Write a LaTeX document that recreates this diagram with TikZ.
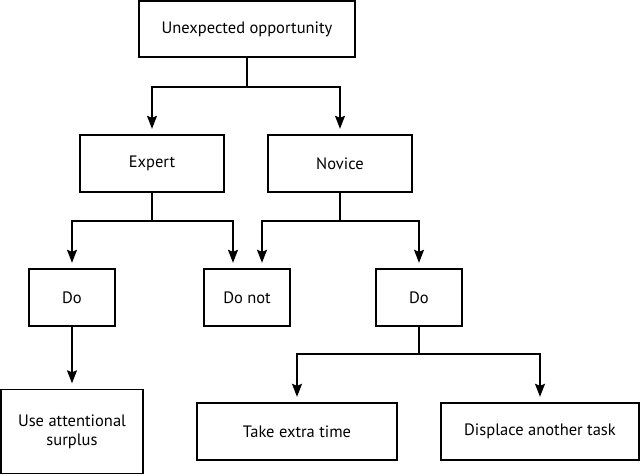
\documentclass[tikz,border=0pt]{standalone}
\usepackage{fontspec}
\setmainfont{PT Sans}
\usetikzlibrary{arrows.meta}
\begin{document}
\begin{tikzpicture}[x=1pt,y=-1pt,
  box/.style={draw=black,line width=1.4pt,inner sep=0pt,align=center,
    font=\fontsize{16.5}{19}\selectfont,text=black},
  arr/.style={line width=1.3pt,-{Stealth[length=13pt,width=10pt,inset=2pt]},shorten >=5.5pt}]
\useasboundingbox (0,0) rectangle (640,475);
\node[box,minimum width=216pt,minimum height=56pt] (top) at (247,29) {Unexpected opportunity};
\node[box,minimum width=144pt,minimum height=57pt] (expert) at (152,163.5) {Expert};
\node[box,minimum width=144pt,minimum height=57pt] (novice) at (340,163.5) {Novice};
\node[box,minimum width=86pt,minimum height=57pt] (do1) at (72,297.5) {Do};
\node[box,minimum width=86pt,minimum height=57pt] (donot) at (247,297.5) {Do not};
\node[box,minimum width=86pt,minimum height=57pt] (do2) at (419,297.5) {Do};
\node[box,minimum width=142pt,minimum height=84pt] (use) at (72,431.5) {Use attentional\\surplus};
\node[box,minimum width=200pt,minimum height=57pt] (take) at (297,431.5) {Take extra time};
\node[box,minimum width=198pt,minimum height=57pt] (disp) at (540,431.5) {Displace another task};
\coordinate (j1) at (247,87);
\coordinate (j2) at (152,221);
\coordinate (j3) at (340,221);
\coordinate (j4) at (419,354);
\draw[line width=1.3pt] (top.south) -- (j1);
\draw[arr] (j1) -| (expert.north);
\draw[arr] (j1) -| (novice.north);
\draw[line width=1.3pt] (expert.south) -- (j2);
\draw[arr] (j2) -| (do1.north);
\draw[arr] (j2) -| ([xshift=-14pt]donot.north);
\draw[line width=1.3pt] (novice.south) -- (j3);
\draw[arr] (j3) -| ([xshift=15pt]donot.north);
\draw[arr] (j3) -| (do2.north);
\draw[arr] (do1.south) -- (use.north);
\draw[line width=1.3pt] (do2.south) -- (j4);
\draw[arr] (j4) -| (take.north);
\draw[arr] (j4) -| (disp.north);
\end{tikzpicture}
\end{document}
